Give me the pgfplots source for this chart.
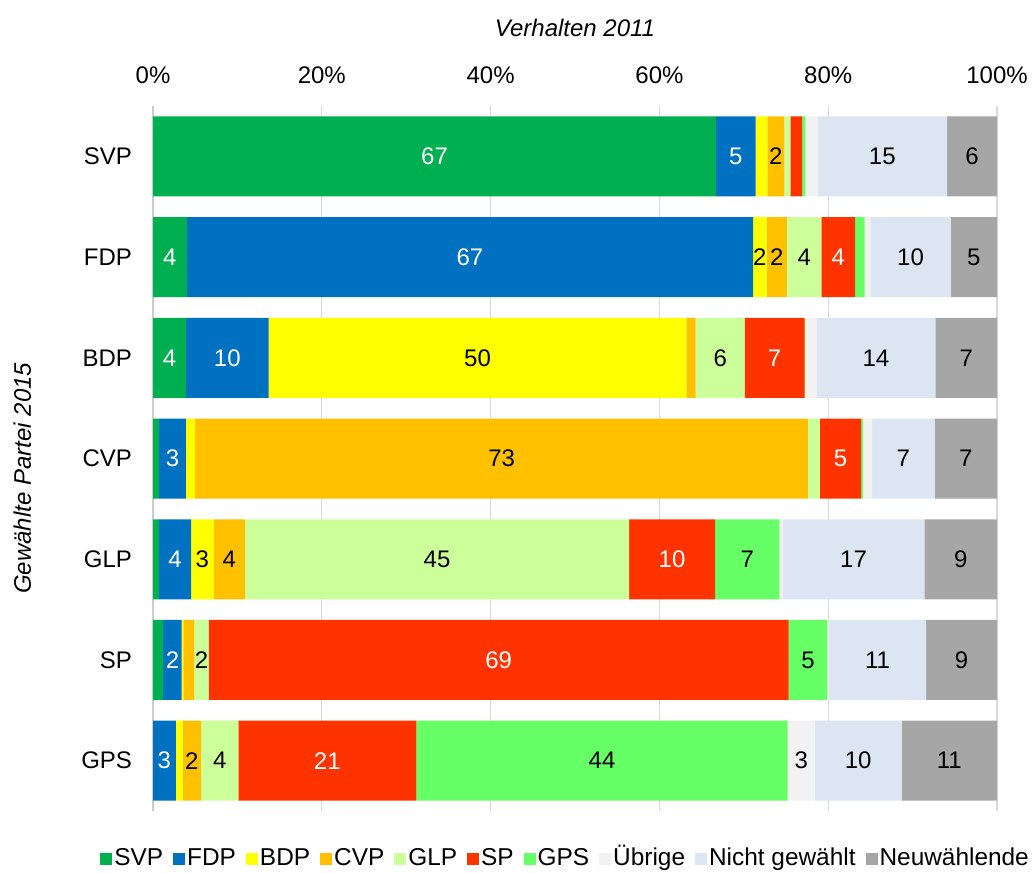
\documentclass[border=0pt]{standalone}
\usepackage{pgfplots}
\pgfplotsset{compat=1.18}
\usepackage{fontspec}
\setmainfont{Liberation Sans}
\definecolor{cSVP}{HTML}{00B050}
\definecolor{cFDP}{HTML}{0070C0}
\definecolor{cBDP}{HTML}{FFFF00}
\definecolor{cCVP}{HTML}{FFC000}
\definecolor{cGLP}{HTML}{CCFF99}
\definecolor{cSP}{HTML}{FF3300}
\definecolor{cGPS}{HTML}{66FF66}
\definecolor{cUeb}{HTML}{F2F2F2}
\definecolor{cNicht}{HTML}{DCE6F2}
\definecolor{cNeu}{HTML}{A6A6A6}
\begin{document}
\begin{tikzpicture}
\begin{axis}[
  scale only axis, width=422pt, height=352.5pt,
  xbar stacked, bar width=40pt,
  xmin=0, xmax=100, ymin=-0.5, ymax=6.5,
  ytick={0,...,6}, yticklabels={GPS,SP,GLP,CVP,BDP,FDP,SVP},
  xtick={0,20,...,100},
  xticklabel={\pgfmathprintnumber{\tick}\%},
  xticklabel pos=upper,
  /pgf/number format/assume math mode=true,
  major tick length=0pt,
  xmajorgrids, major grid style={draw=black!15, line width=0.6pt},
  axis x line*=top, x axis line style={draw=none},
  axis y line*=left, y axis line style={draw=black!20, line width=0.8pt},
  font=\fontsize{12}{14}\selectfont,
  xticklabel style={yshift=7.5pt},
  yticklabel style={xshift=-7pt},
  title={\itshape Verhalten 2011},
  every axis title shift=0pt,
  title style={at={(axis description cs:0.5,1.1106)}, anchor=center, yshift=0pt},
  ylabel={\itshape Gewählte Partei 2015},
  every axis y label/.style={at={(axis description cs:-0.155,0.472)}, rotate=90, anchor=center},
  point meta=explicit symbolic,
  nodes near coords,
  every node near coord/.append style={anchor=center, text=black, font=\fontsize{12}{14}\selectfont},
  legend style={at={(axis description cs:0.49,-0.068)}, anchor=center, draw=none, fill=none,
    legend columns=-1, font=\fontsize{12.2}{14}\selectfont,
    nodes={text height=9pt, text depth=2.5pt},
    /tikz/every even column/.append style={column sep=3pt},
    /tikz/every odd column/.append style={column sep=-1pt}},
  legend image code/.code={\fill[#1] (0pt,-3pt) rectangle (6pt,3pt);},
]
\addplot[fill=cSVP, draw=none, every node near coord/.append style={text=white}] coordinates {
 (66.7,6) [67] (4.0,5) [4] (3.9,4) [4] (0.7,3) [] (0.7,2) [] (1.2,1) [] (0.0,0) []};
\addlegendentry{SVP}
\addplot[fill=cFDP, draw=none, every node near coord/.append style={text=white}] coordinates {
 (4.7,6) [5] (67.1,5) [67] (9.8,4) [10] (3.2,3) [3] (3.8,2) [4] (2.2,1) [2] (2.7,0) [3]};
\addlegendentry{FDP}
\addplot[fill=cBDP, draw=none] coordinates {
 (1.4,6) [] (1.6,5) [2] (49.5,4) [50] (1.1,3) [] (2.7,2) [3] (0.2,1) [] (0.8,0) []};
\addlegendentry{BDP}
\addplot[fill=cCVP, draw=none] coordinates {
 (2.0,6) [2] (2.4,5) [2] (1.1,4) [] (72.6,3) [73] (3.7,2) [4] (1.3,1) [] (2.2,0) [2]};
\addlegendentry{CVP}
\addplot[fill=cGLP, draw=none] coordinates {
 (0.7,6) [] (4.1,5) [4] (5.8,4) [6] (1.4,3) [] (45.5,2) [45] (1.7,1) [2] (4.4,0) [4]};
\addlegendentry{GLP}
\addplot[fill=cSP, draw=none, every node near coord/.append style={text=white}] coordinates {
 (1.4,6) [] (4.0,5) [4] (7.1,4) [7] (4.9,3) [5] (10.2,2) [10] (68.7,1) [69] (21.1,0) [21]};
\addlegendentry{SP}
\addplot[fill=cGPS, draw=none] coordinates {
 (0.4,6) [] (1.1,5) [] (0.1,4) [] (0.2,3) [] (7.6,2) [7] (4.6,1) [5] (44.0,0) [44]};
\addlegendentry{GPS}
\addplot[fill=cUeb, draw=none] coordinates {
 (1.4,6) [] (0.7,5) [] (1.3,4) [] (1.1,3) [] (0.4,2) [] (0.2,1) [] (3.2,0) [3]};
\addlegendentry{Übrige}
\addplot[fill=cNicht, draw=none] coordinates {
 (15.4,6) [15] (9.5,5) [10] (14.1,4) [14] (7.4,3) [7] (16.8,2) [17] (11.5,1) [11] (10.3,0) [10]};
\addlegendentry{Nicht gewählt}
\addplot[fill=cNeu, draw=none] coordinates {
 (5.9,6) [6] (5.5,5) [5] (7.3,4) [7] (7.4,3) [7] (8.6,2) [9] (8.4,1) [9] (11.3,0) [11]};
\addlegendentry{Neuwählende}
\coordinate (bl) at (rel axis cs:-0.1813,-0.0865);
\coordinate (tr) at (rel axis cs:1.0438,1.1504);
\end{axis}
\pgfresetboundingbox
\useasboundingbox (bl) rectangle (tr);
\end{tikzpicture}
\end{document}
